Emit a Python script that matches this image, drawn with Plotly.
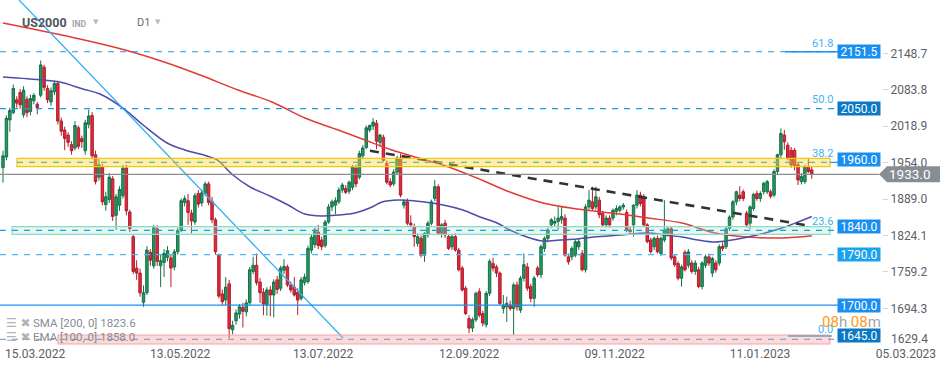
import plotly.graph_objects as go

# ---------------- data (open, high, low, close) ----------------
candles_mar_jun22 = [
    (1945,1975,1918,1966),(1964,2038,1958,2033),(2030,2052,2009,2047),(2043,2093,2040,2086),
    (2066,2072,2052,2060),(2079,2085,2050,2057),(2039,2090,2034,2083),(2067,2072,2035,2043),
    (2045,2075,2038,2068),(2064,2078,2058,2074),(2058,2062,2040,2052),(2074,2136,2070,2128),
    (2124,2128,2082,2088),(2086,2092,2060,2066),(2062,2088,2055,2082),(2080,2100,2074,2095),
    (2095,2100,2022,2028),(2028,2034,2002,2010),(2012,2018,1976,1997),(2003,2008,1982,1990),
    (1986,1992,1968,1975),(1980,2028,1976,2020),(2016,2020,1978,1983),(1997,2002,1980,1991),
    (1975,2030,1968,2025),(2022,2048,2015,2037),(2038,2044,1960,1966),(1968,1975,1915,1920),
    (1928,1960,1922,1950),(1946,1952,1878,1884),(1879,1902,1868,1893),(1888,1935,1882,1928),
    (1925,1930,1850,1858),(1860,1898,1834,1893),(1878,1912,1868,1906),(1895,1950,1890,1944),
    (1944,1950,1860,1868),(1866,1870,1830,1836),(1822,1826,1755,1760),(1766,1780,1745,1757),
    (1757,1765,1715,1722),(1705,1735,1697,1722),(1722,1805,1718,1798),(1794,1800,1770,1780),
    (1770,1843,1765,1838),(1836,1842,1770,1778),(1770,1790,1732,1779),(1776,1800,1750,1792),
    (1785,1805,1778,1797),(1784,1790,1732,1766),(1768,1800,1762,1795),(1795,1838,1790,1833),
    (1834,1890,1830,1886),(1883,1895,1876,1890),(1886,1898,1843,1865),(1864,1870,1828,1850),
    (1848,1900,1843,1895),(1899,1905,1874,1880),(1882,1906,1876,1900),(1899,1920,1894,1916),
    (1916,1920,1878,1883),
]
candles_jun_aug22 = [
    (1885,1893,1846,1852),(1852,1856,1790,1795),(1790,1792,1712,1716),(1720,1728,1700,1706),
    (1709,1750,1700,1732),(1738,1745,1641,1658),(1656,1672,1648,1664),(1672,1692,1665,1686),
    (1684,1702,1676,1697),(1696,1704,1660,1689),(1688,1710,1680,1704),(1704,1768,1700,1763),
    (1760,1786,1755,1771),(1771,1792,1735,1740),(1741,1748,1704,1722),(1723,1730,1682,1702),
    (1700,1732,1681,1727),(1727,1734,1680,1718),(1718,1746,1678,1741),(1745,1752,1720,1728),
    (1730,1770,1725,1766),(1762,1782,1755,1769),(1768,1772,1732,1736),(1736,1742,1722,1727),
    (1732,1750,1715,1718),(1723,1730,1682,1709),(1712,1750,1708,1745),(1740,1756,1735,1750),
    (1742,1806,1738,1801),(1798,1826,1792,1821),(1808,1838,1802,1834),(1830,1843,1800,1806),
    (1816,1822,1798,1804),(1806,1852,1802,1848),(1848,1880,1845,1875),(1875,1888,1868,1884),
    (1878,1892,1862,1886),(1884,1910,1880,1905),(1905,1918,1900,1914),(1908,1914,1898,1901),
    (1903,1922,1898,1919),(1910,1950,1905,1946),(1944,1950,1910,1916),(1928,1975,1924,1970),
    (1966,1985,1960,1980),(1981,2020,1978,2016),(2012,2022,2008,2020),(2019,2033,2012,2026),
    (2024,2030,1978,1992),(1990,2005,1982,2003),(1999,2004,1955,1958),(1953,1958,1915,1919),
    (1920,1926,1910,1914),(1916,1942,1912,1937),(1937,1966,1932,1962),(1962,1970,1892,1896),
    (1878,1888,1872,1884),(1884,1890,1842,1846),
]
candles_sep_nov22 = [
    (1846,1860,1838,1843),(1840,1845,1804,1822),(1810,1828,1804,1822),(1819,1824,1785,1789),
    (1789,1830,1777,1828),(1825,1850,1820,1846),(1846,1888,1842,1884),(1890,1923,1885,1911),
    (1911,1915,1825,1828),(1828,1846,1820,1843),(1846,1852,1820,1825),(1822,1826,1798,1801),
    (1804,1826,1798,1822),(1822,1828,1795,1798),(1798,1802,1760,1763),(1766,1770,1724,1727),
    (1730,1734,1682,1685),(1676,1682,1650,1659),(1659,1678,1652,1674),(1674,1724,1670,1721),
    (1724,1730,1678,1682),(1685,1690,1662,1668),(1665,1725,1660,1721),(1721,1782,1716,1778),
    (1774,1784,1760,1766),(1768,1772,1750,1757),(1757,1760,1700,1703),(1694,1718,1685,1700),
    (1697,1715,1670,1703),(1700,1708,1690,1694),(1694,1740,1647,1736),(1736,1742,1690,1697),
    (1691,1752,1686,1748),(1748,1792,1742,1772),(1768,1775,1725,1730),(1733,1738,1705,1712),
    (1712,1752,1697,1748),(1766,1770,1750,1754),(1754,1808,1748,1804),(1801,1822,1795,1819),
    (1819,1838,1812,1834),(1843,1855,1838,1852),(1846,1858,1840,1849),(1849,1875,1834,1855),
    (1852,1875,1845,1858),(1855,1862,1786,1789),(1786,1792,1772,1777),(1786,1805,1780,1801),
    (1789,1816,1785,1813),(1804,1818,1798,1813),(1792,1798,1760,1763),(1763,1880,1758,1875),
    (1875,1905,1870,1887),(1884,1911,1868,1872),(1875,1911,1870,1893),(1887,1893,1855,1861),
    (1863,1868,1840,1843),(1843,1860,1838,1855),(1855,1860,1838,1843),(1855,1872,1850,1869),
    (1867,1878,1860,1872),
]
candles_nov22_feb23 = [
    (1869,1878,1865,1875),(1875,1882,1870,1878),(1865,1870,1830,1834),(1834,1840,1826,1831),
    (1843,1880,1822,1878),(1878,1905,1872,1896),(1896,1902,1876,1881),(1893,1898,1840,1843),
    (1843,1846,1810,1813),(1816,1820,1792,1795),(1804,1822,1798,1819),(1819,1824,1792,1795),
    (1792,1822,1788,1819),(1816,1887,1812,1834),(1828,1840,1822,1836),(1836,1840,1780,1784),
    (1786,1790,1768,1772),(1774,1778,1744,1748),(1748,1772,1733,1768),(1794,1798,1760,1763),
    (1771,1800,1766,1795),(1775,1780,1756,1760),(1760,1780,1754,1775),(1763,1768,1730,1733),
    (1733,1778,1728,1775),(1771,1790,1766,1786),(1786,1792,1770,1775),(1757,1786,1750,1783),
    (1775,1780,1758,1763),(1775,1808,1770,1804),(1805,1812,1796,1801),(1804,1840,1800,1836),
    (1837,1860,1832,1857),(1857,1887,1852,1884),(1884,1904,1878,1902),(1896,1912,1885,1890),
    (1902,1906,1885,1890),(1864,1868,1838,1843),(1846,1878,1835,1875),(1872,1900,1868,1897),
    (1899,1904,1886,1890),(1890,1903,1884,1899),(1902,1920,1897,1917),(1902,1923,1898,1920),
    (1902,1906,1890,1894),(1896,1942,1892,1938),(1938,1970,1932,1968),(1968,2015,1960,2006),
    (2003,2012,1977,1991),(1985,1990,1958,1962),(1976,1982,1945,1950),(1976,1980,1940,1947),
    (1950,1955,1914,1923),(1920,1935,1915,1929),(1920,1950,1916,1947),(1947,1962,1935,1938),
    (1941,1946,1925,1933),
]

# moving averages (bar index, value)
sma200_idx = [0, 23.1, 35.6, 47.9, 57.5, 68.6, 78.5, 88.1, 97.8, 105.6, 113.5, 120.2, 128.4,
              138.3, 147.9, 157.6, 167.5, 180.0, 188.2, 198.1, 207.8, 217.4, 227.3, 236]
sma200_val = [2202.7, 2173.3, 2154.6, 2131.4, 2110.0, 2083.3, 2061.9, 2033.4, 2012.0, 1994.2,
              1976.4, 1963.9, 1949.7, 1926.5, 1901.5, 1881.9, 1871.3, 1862.3, 1855.2, 1846.3,
              1828.5, 1821.3, 1819.6, 1823.6]
ema100_idx = [0, 11.7, 16.6, 23.3, 28.3, 35.0, 40.9, 47.9, 53.1, 59.5, 62.5, 67.1, 72.1, 77.9,
              83.2, 88.1, 93.1, 97.8, 102.7, 107.7, 110.6, 115.3, 120.2, 128.4, 134.2, 139.2,
              144.2, 147.9, 152.9, 157.6, 162.5, 167.5, 172.2, 180.0, 188.2, 193.2, 198.1,
              202.8, 207.8, 212.7, 217.4, 222.4, 227.3, 232.0, 236]
ema100_val = [2106.5, 2101.1, 2097.6, 2085.1, 2076.2, 2051.2, 2020.9, 1988.9, 1976.4, 1965.7,
              1958.6, 1931.8, 1910.5, 1894.4, 1878.4, 1862.3, 1858.8, 1860.6, 1864.1, 1874.8,
              1883.7, 1887.3, 1885.5, 1878.4, 1869.5, 1857.0, 1846.3, 1833.8, 1821.4, 1814.2,
              1816.0, 1817.8, 1821.4, 1824.9, 1828.5, 1824.9, 1821.4, 1816.0, 1812.4, 1816.0,
              1821.4, 1828.5, 1837.4, 1848.1, 1858.0]

# drawn trend lines (bar index, value)
blue_trend_idx = [4.7, 99.3]
blue_trend_val = [2243.7, 1640.8]
black_trend_idx = [107.1, 234.0]
black_trend_val = [1975.1, 1842.7]

# horizontal levels and zones
level_values = [2151.5, 2050.0, 1960.0, 1840.0, 1790.0, 1700.0, 1645.0]
level_box_colors = ['#1b8ff0', '#0a78c4', '#1b8ff0', '#1b8ff0', '#1aa3ec', '#1b8ff0', '#0a78c4']
fib_labels = ['61.8', '50.0', '38.2', '23.6', '0.0']
fib_values = [2151.5, 2050.0, 1960.0, 1840.0, 1645.0]
fib_shift = [8, 9, 6, 5, 6]
yellow_zone = [1946.6, 1961.6, 1954.3]   # low, high, mid line
green_zone = [1826.2, 1839.7, 1833.3]
pink_zone = [1630.7, 1646.7, 1639.0]
last_price = 1933.0
sma_last = 1823.6
ema_last = 1858.0

y_ticks = [2148.7, 2083.8, 2018.9, 1954.0, 1889.0, 1824.1, 1759.2, 1694.3]
y_bottom_label = 1629.4
x_tick_pos = [0.6, 42.9, 84.6, 127.2, 169.7, 212.1, 254.7]
x_tick_text = ['15.03.2022', '13.05.2022', '13.07.2022', '12.09.2022', '09.11.2022',
               '11.01.2023', '05.03.2023']

# ---------------- build ----------------
candles = candles_mar_jun22 + candles_jun_aug22 + candles_sep_nov22 + candles_nov22_feb23
bar_idx = list(range(len(candles)))
opens = [c[0] for c in candles]
highs = [c[1] for c in candles]
lows = [c[2] for c in candles]
closes = [c[3] for c in candles]

W, H = 882.0, 345.0           # plot area in pixels
X_RANGE = [-0.875, 256.5]
Y_RANGE = [1628.9, 2243.7]


def px(p):                    # horizontal pixel -> paper fraction
    return p / W


def py(p):                    # vertical pixel -> paper fraction
    return 1 - p / H


FONT = 'Roboto'
fig = go.Figure()

fig.add_trace(go.Candlestick(
    x=bar_idx, open=opens, high=highs, low=lows, close=closes,
    increasing=dict(line=dict(color='#17704a', width=1), fillcolor='#23995f'),
    decreasing=dict(line=dict(color='#b01f2e', width=1), fillcolor='#e2283b'),
    whiskerwidth=0, showlegend=False, hoverinfo='skip'))

fig.add_trace(go.Scatter(x=sma200_idx, y=sma200_val, mode='lines', showlegend=False,
                         line=dict(color='#e23a36', width=1.5, shape='spline'), hoverinfo='skip'))
fig.add_trace(go.Scatter(x=ema100_idx, y=ema100_val, mode='lines', showlegend=False,
                         line=dict(color='#4c4caa', width=1.5, shape='spline'), hoverinfo='skip'))
fig.add_trace(go.Scatter(x=blue_trend_idx, y=blue_trend_val, mode='lines', showlegend=False,
                         line=dict(color='#33b1f2', width=1.3), hoverinfo='skip'))
fig.add_trace(go.Scatter(x=black_trend_idx, y=black_trend_val, mode='lines', showlegend=False,
                         line=dict(color='#2f3437', width=2.6, dash='9px,7px'), hoverinfo='skip'))

shapes = []


def hline(y, x0p, x1p, color, width=1.2, dash=None, layer='above'):
    d = dict(type='line', xref='paper', yref='y', x0=px(x0p), x1=px(x1p), y0=y, y1=y,
             line=dict(color=color, width=width), layer=layer)
    if dash:
        d['line']['dash'] = dash
    shapes.append(d)


def zone(z, x0p, x1p, fill, border):
    shapes.append(dict(type='rect', xref='paper', yref='y', x0=px(x0p), x1=px(x1p),
                       y0=z[0], y1=z[1], fillcolor=fill, line=dict(color=border, width=1.2),
                       layer='above'))


BLUE = '#1a9be8'
DASH = '6px,6px'
zone(yellow_zone, 17, 830, 'rgba(250,214,50,0.42)', '#f3c514')
zone(green_zone, 12, 830, 'rgba(160,228,200,0.28)', '#8edcc0')
zone(pink_zone, 58, 830, 'rgba(245,150,150,0.35)', '#f2a8a8')

hline(level_values[0], 0, 838, BLUE, dash=DASH)
hline(level_values[0], 785, 838, '#1b8ff0', width=1.6)
hline(level_values[1], 0, 838, BLUE, dash=DASH)
hline(yellow_zone[2], 17, 830, '#74b49c', dash=DASH)
hline(yellow_zone[2], 830, 838, BLUE)
hline(green_zone[2], 0, 838, BLUE, dash=DASH)
hline(level_values[4], 0, 838, '#4db6f0', dash=DASH)
hline(level_values[5], 0, 838, '#1b8ff0', width=1.4)
hline(pink_zone[2], 0, 838, '#8ba3c6', dash=DASH)
hline(level_values[6], 788, 832, '#7f97bd', width=1.4)
hline(last_price, 0, 879, '#8d8d8d', width=1.1)

# current price arrow box
half = 8.0 / H * (Y_RANGE[1] - Y_RANGE[0])
shapes.append(dict(type='path', xref='paper', yref='y', layer='above',
                   path=(f'M {px(879)},{last_price} L {px(887)},{last_price + half} '
                         f'L {px(940)},{last_price + half} L {px(940)},{last_price - half} '
                         f'L {px(887)},{last_price - half} Z'),
                   fillcolor='#878e93', line=dict(width=0)))

ann = []
for v, c in zip(level_values, level_box_colors):
    ann.append(dict(xref='paper', yref='y', x=px(859), y=v, text=f'{v:.1f}', showarrow=False,
                    font=dict(family=FONT, size=12, color='white'), bgcolor=c,
                    width=42, height=13, xanchor='center', yanchor='middle', borderpad=0))
for t, v, s in zip(fib_labels, fib_values, fib_shift):
    ann.append(dict(xref='paper', yref='y', x=px(835), y=v, yshift=s, text=t, showarrow=False,
                    font=dict(family=FONT, size=11, color='#3db3f2'), xanchor='right',
                    yanchor='middle'))
ann.append(dict(xref='paper', yref='y', x=px(910), y=last_price, text=f'{last_price:.1f}',
                showarrow=False, font=dict(family=FONT, size=13.5, color='white'),
                xanchor='center', yanchor='middle'))
ann.append(dict(xref='paper', yref='paper', x=px(889), y=py(339), text=f'{y_bottom_label:.1f}',
                showarrow=False, font=dict(family=FONT, size=12, color='#5b6066'),
                xanchor='left', yanchor='middle'))
# header
ann += [
    dict(xref='paper', yref='paper', x=px(20), y=py(23), text='<b>US2000</b>', showarrow=False,
         font=dict(family=FONT, size=12.5, color='#50565c'), xanchor='left', yanchor='middle'),
    dict(xref='paper', yref='paper', x=px(70), y=py(24), text='<b>IND</b>', showarrow=False,
         font=dict(family=FONT, size=8.5, color='#a0a6ac'), xanchor='left', yanchor='middle'),
    dict(xref='paper', yref='paper', x=px(95.5), y=py(22), text='▼', showarrow=False,
         font=dict(family='DejaVu Sans', size=7, color='#b8bcc0'), xanchor='center', yanchor='middle'),
    dict(xref='paper', yref='paper', x=px(135), y=py(23), text='D1', showarrow=False,
         font=dict(family=FONT, size=11, color='#6a7178'), xanchor='left', yanchor='middle'),
    dict(xref='paper', yref='paper', x=px(158), y=py(22), text='▼', showarrow=False,
         font=dict(family='DejaVu Sans', size=7, color='#b8bcc0'), xanchor='center', yanchor='middle'),
]
# indicator legend
for name, params, val, ypix in [('SMA', '[200, 0]', sma_last, 323),
                                ('EMA', '[100, 0]', ema_last, 337)]:
    ann.append(dict(xref='paper', yref='paper', x=px(4), y=py(ypix), text='☰ ✖', showarrow=False,
                    font=dict(family='DejaVu Sans', size=12, color='#b0b4b8'),
                    xanchor='left', yanchor='middle'))
    ann.append(dict(xref='paper', yref='paper', x=px(31), y=py(ypix),
                    text=f'{name} {params} {val:.1f}', showarrow=False,
                    font=dict(family=FONT, size=11.5, color='#868c92'),
                    xanchor='left', yanchor='middle'))
# candle timer
ann.append(dict(xref='paper', yref='paper', x=px(851), y=py(322),
                text=('<span style="color:#ff9a14">08</span>h '
                      '<span style="color:#ff9a14">08</span>m'),
                showarrow=False, font=dict(family=FONT, size=15, color='#a3a7ab'),
                xanchor='center', yanchor='middle'))

fig.update_layout(
    width=949, height=370, margin=dict(l=0, r=67, t=0, b=25),
    paper_bgcolor='white', plot_bgcolor='white',
    boxgap=0.28, boxgroupgap=0,
    shapes=shapes, annotations=ann, showlegend=False,
    xaxis=dict(range=X_RANGE, showgrid=False, zeroline=False, showline=False,
               tickmode='array', tickvals=x_tick_pos, ticktext=x_tick_text,
               ticklabelposition='outside right', ticks='',
               tickfont=dict(family=FONT, size=12, color='#5b6066'),
               rangeslider=dict(visible=False), fixedrange=True),
    yaxis=dict(range=Y_RANGE, side='right', showgrid=False, zeroline=False, showline=False,
               tickmode='array', tickvals=y_ticks, tickformat='.1f',
               ticks='outside', ticklen=5, tickcolor='#d4d6d8',
               tickfont=dict(family=FONT, size=12, color='#5b6066'), fixedrange=True),
)

fig.write_html('out.html')
